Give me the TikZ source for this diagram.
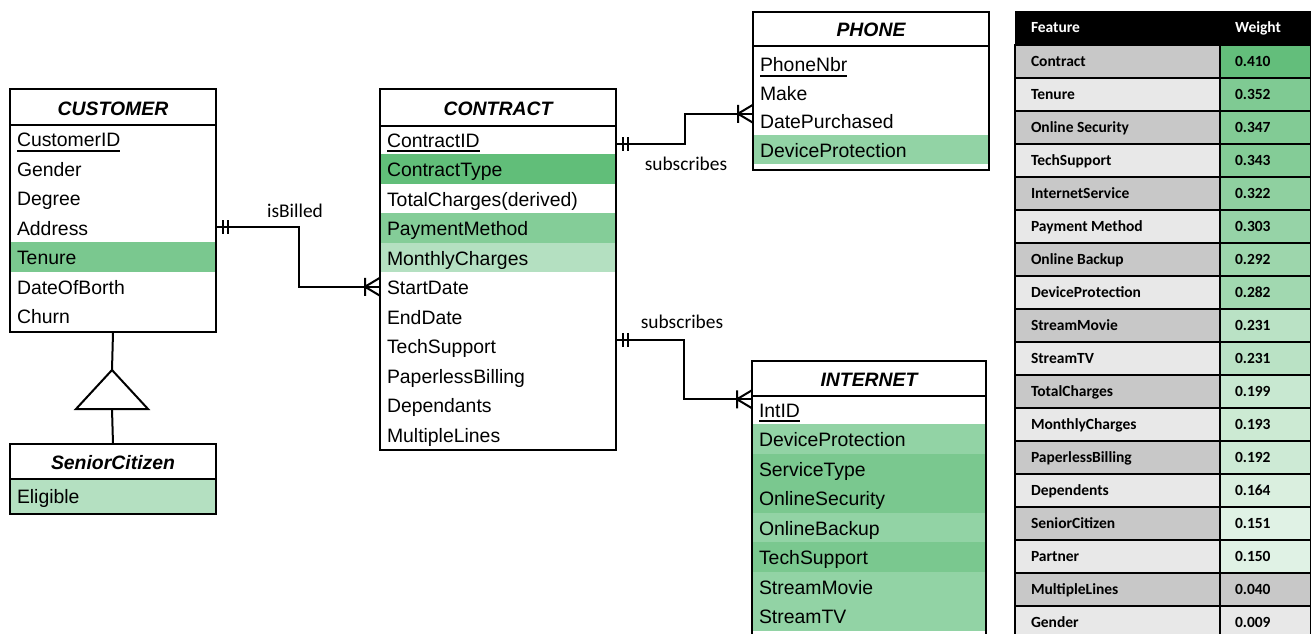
\documentclass[tikz,border=0pt]{standalone}
\usepackage{fontspec}
\usetikzlibrary{fit}
\newfontfamily\erfont{Liberation Sans}
\newfontfamily\relfont{Carlito}
\newcommand{\ersize}{\fontsize{19.4pt}{23pt}\selectfont}
\newcommand{\tabsize}{\fontsize{15.5pt}{18pt}\selectfont}
\newcommand{\pk}[1]{\setbox0\hbox{#1}\rlap{\rule[-5pt]{\wd0}{1.8pt}}\box0}
% one / one-or-many ends of a relationship
\newcommand{\oneend}[1]{\draw (#1) ++(7,-7) -- ++(0,14) (#1) ++(12,-7) -- ++(0,14);}
\newcommand{\manyend}[1]{\draw (#1) ++(0,-9) -- ++(-15,9) -- ++(15,9) (#1) ++(-15,-9) -- ++(0,18);}
\definecolor{cgtype}{RGB}{97,190,121}
\definecolor{cgten}{RGB}{122,200,143}
\definecolor{cgpay}{RGB}{132,205,152}
\definecolor{cglite}{RGB}{180,224,193}
\definecolor{cgmid}{RGB}{146,211,165}
\definecolor{cellgreen}{RGB}{99,190,123}
\definecolor{rowdark}{RGB}{200,200,200}
\definecolor{rowlight}{RGB}{232,232,232}
\begin{document}
\begin{tikzpicture}[
x=1pt,y=-1pt,
line width=2pt,
erhead/.style={minimum width=#1,inner sep=0pt,anchor=north west,font=\erfont\ersize\bfseries\itshape,text height=16pt,text depth=0pt},
erattr/.style={text width=#1,inner xsep=6pt,inner ysep=0pt,minimum height=29.5pt,anchor=north west,align=flush left,font=\erfont\ersize,text height=16pt,text depth=0pt},
erbox/.style={draw,inner sep=0pt},
rel/.style={anchor=base,inner sep=0pt,font=\relfont\ersize},
featcell/.style={draw,text width=173pt,inner xsep=16pt,inner ysep=0pt,minimum height=33pt,anchor=north west,align=flush left,font=\relfont\tabsize\bfseries,text height=10pt,text depth=0pt},
wtcell/.style={featcell,text width=61pt,inner xsep=15pt},
tabhead/.style={featcell,draw=none,fill=black,text=white,minimum height=34pt}
]
\path[use as bounding box,fill=white] (0,0) rectangle (1311,634);
\clip (0,0) rectangle (1311,634);

% CUSTOMER
\node[erhead=204pt,minimum height=34pt] (cuhead) at (10,89) {CUSTOMER};
\foreach \lab/\shade [count=\i] in {\pk{CustomerID}/white,Gender/white,Degree/white,Address/white,Tenure/cgten,DateOfBorth/white,Churn/white}
	\node[erattr=192pt,fill=\shade] (cu\i) at (10,{123+(\i-1)*29.5}) {\lab};
\node[erbox,fit=(cuhead)(cu7)] (cust) {};
\draw (cuhead.south west) -- (cuhead.south east);

% SeniorCitizen
\coordinate (isatop) at (112,370);
\coordinate (isabase) at (112,409);
\draw (isatop) -- ++(36,39) -- ++(-72,0) -- cycle;
\node[erhead=204pt,minimum height=33pt] (schead) at (10,444) {SeniorCitizen};
\node[erattr=192pt,minimum height=35pt,fill=cglite] (sc1) at (10,477) {Eligible};
\node[erbox,fit=(schead)(sc1)] (senior) {};
\draw (schead.south west) -- (schead.south east);
\draw (cust.south) -- (isatop);
\draw (isabase) -- (schead.north);

% CONTRACT
\node[erhead=234pt,minimum height=34.5pt] (cohead) at (380,89) {CONTRACT};
\foreach \lab/\shade [count=\i] in {\pk{ContractID}/white,ContractType/cgtype,TotalCharges(derived)/white,PaymentMethod/cgpay,MonthlyCharges/cglite,StartDate/white,EndDate/white,TechSupport/white,PaperlessBilling/white,Dependants/white,MultipleLines/white}
	\node[erattr=222pt,fill=\shade] (co\i) at (380,{123.5+(\i-1)*29.5}) {\lab};
\node[erbox,fit=(cohead)(co11)] (contract) {};
\draw (cohead.south west) -- (cohead.south east);

% PHONE
\node[erhead=234pt,minimum height=32pt] (phhead) at (753,12) {PHONE};
\foreach \lab/\shade [count=\i] in {\pk{PhoneNbr}/white,Make/white,DatePurchased/white,DeviceProtection/cgmid}
	\node[erattr=222pt,minimum height=28.5pt,fill=\shade] (ph\i) at (753,{48.5+(\i-1)*28.5}) {\lab};
\coordinate (phend) at (987,170);
\node[erbox,fit=(phhead)(ph4)(phend)] (phone) {};
\draw (phhead.south west) -- (phhead.south east);

% INTERNET
\node[erhead=232pt,minimum height=32.5pt] (inhead) at (752,361) {INTERNET};
\foreach \lab/\shade [count=\i] in {\pk{IntID}/white,DeviceProtection/cgmid,ServiceType/cgten,OnlineSecurity/cgten,OnlineBackup/cgmid,TechSupport/cgten,StreamMovie/cgmid,StreamTV/cgmid}
	\node[erattr=220pt,fill=\shade] (in\i) at (752,{393.5+(\i-1)*29.5}) {\lab};
\coordinate (inend) at (984,660);
\node[erbox,fit=(inhead)(in8)(inend)] (internet) {};
\draw (inhead.south west) -- (inhead.south east);

% relationships
\draw (cu4.east) -- ++(83,0) |- (co6.west);
\oneend{cu4.east}
\manyend{co6.west}
\node[rel] (lbilled) at (295,217) {isBilled};

\draw ([yshift=-5pt]co1.east) -- ++(69,0) |- ([yshift=7pt]ph3.west);
\oneend{[yshift=-5pt]co1.east}
\manyend{[yshift=7pt]ph3.west}
\node[rel] (lsubph) at (686,170) {subscribes};

\draw ([yshift=6pt]co8.east) -- ++(68,0) |- ([yshift=10pt]in1.west);
\oneend{[yshift=6pt]co8.east}
\manyend{[yshift=10pt]in1.west}
\node[rel] (lsubin) at (682,328) {subscribes};

% feature weights
\node[tabhead] (hfeat) at (1014,10) {Feature};
\node[tabhead,text width=61pt,inner xsep=15pt] (hwt) at (1219,10) {Weight};
\foreach \feat/\wt [count=\i] in {Contract/0.410,Tenure/0.352,Online Security/0.347,TechSupport/0.343,InternetService/0.322,Payment Method/0.303,Online Backup/0.292,DeviceProtection/0.282,StreamMovie/0.231,StreamTV/0.231,TotalCharges/0.199,MonthlyCharges/0.193,PaperlessBilling/0.192,Dependents/0.164,SeniorCitizen/0.151,Partner/0.150,MultipleLines/0.040,Gender/0.009}{
	\pgfmathtruncatemacro\odd{mod(\i,2)}
	\pgfmathtruncatemacro\gp{\wt<0.145 ? 0 : 20+80*(\wt-0.15)/0.26}
	\ifnum\odd=1 \def\rowfill{rowdark}\else\def\rowfill{rowlight}\fi
	\ifnum\gp=0 \edef\wtfill{\rowfill}\else\edef\wtfill{cellgreen!\gp!white}\fi
	\node[featcell,fill=\rowfill] (f\i) at (1014,{44+(\i-1)*33}) {\feat};
	\node[wtcell,fill=\wtfill] (w\i) at (1219,{44+(\i-1)*33}) {\wt};
}
\end{tikzpicture}
\end{document}
